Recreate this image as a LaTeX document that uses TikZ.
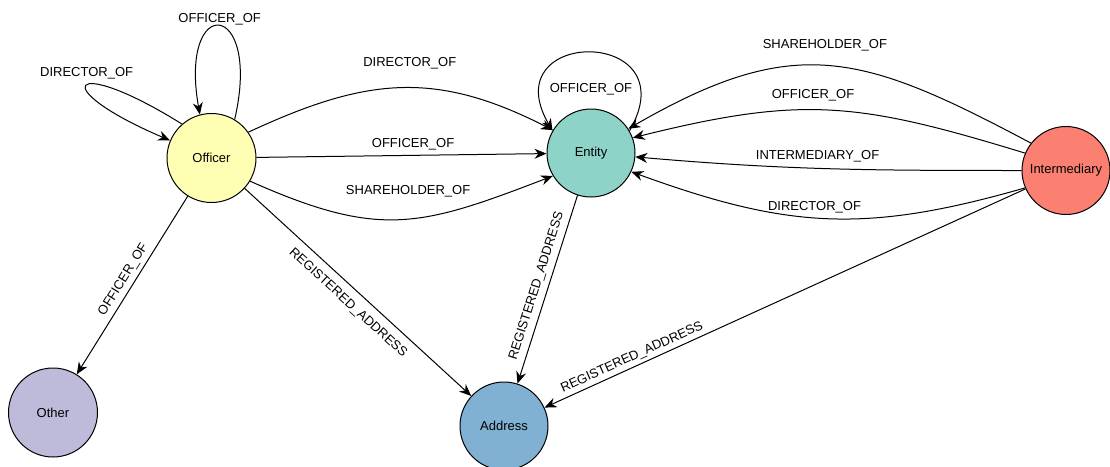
\documentclass[tikz,border=0pt]{standalone}
\usepackage{fontspec}
\setmainfont{Liberation Sans}
\usetikzlibrary{arrows.meta}
\definecolor{setteal}{HTML}{8DD3C7}
\definecolor{setyellow}{HTML}{FFFFB3}
\definecolor{setlav}{HTML}{BEBADA}
\definecolor{setsalmon}{HTML}{FB8072}
\definecolor{setblue}{HTML}{80B1D3}

\begin{document}
\begin{tikzpicture}[x=1pt,y=-1pt,
  every node/.style={font=\fontsize{13}{15}\selectfont},
  nodecirc/.style={circle, draw=black, line width=1pt, inner sep=0pt, minimum size=88pt},
  rel/.style={draw=black, line width=1pt, -{Stealth[length=12pt,width=10pt]}},
  lbl/.style={inner sep=0pt}]
\useasboundingbox (0,0) rectangle (1110,466);
\node[nodecirc, fill=setyellow, minimum size=89pt] (officer) at (211.5,158) {Officer};
\node[nodecirc, fill=setteal] (entity) at (591,153) {Entity};
\node[nodecirc, fill=setsalmon] (intermediary) at (1066,170.5) {Intermediary};
\node[nodecirc, fill=setlav, minimum size=89pt] (other) at (53,412.5) {Other};
\node[nodecirc, fill=setblue] (address) at (504,426) {Address};
\draw[rel] (officer.131) to[out=148,in=157,looseness=17] node[lbl,above=6pt] {DIRECTOR\_OF} (officer.157);
\draw[rel] (officer.59) to[out=77,in=100,looseness=9] node[lbl,above=1pt] {OFFICER\_OF} (officer.105);
\draw[rel] (officer.35) to[out=25,in=153,looseness=1.1] node[lbl,pos=0.53,above=18pt] {DIRECTOR\_OF} (entity.149);
\draw[rel] (officer) -- node[lbl,pos=0.54,above=5pt] {OFFICER\_OF} (entity);
\draw[rel] (officer.-31) to[out=-24,in=201,looseness=1.2] node[lbl,pos=0.53,above=21pt] {SHAREHOLDER\_OF} (entity.211);
\draw[rel] (entity.30) to[out=60,in=120,looseness=4] node[lbl,below=30pt] {OFFICER\_OF} (entity.150);
\draw[rel] (intermediary.142) to[out=152,in=30,looseness=1.22] node[lbl,pos=0.51,above=14pt] {SHAREHOLDER\_OF} (entity.33);
\draw[rel] (intermediary.157) to[out=163,in=14,looseness=1.14] node[lbl,pos=0.55,above=8.5pt] {OFFICER\_OF} (entity.20);
\draw[rel] (intermediary.west) to[out=180,in=-5] node[lbl,pos=0.53,above=6pt] {INTERMEDIARY\_OF} (entity.-5);
\draw[rel] (intermediary.203) to[out=196,in=-20,looseness=1.08] node[lbl,pos=0.535,above=4.3pt] {DIRECTOR\_OF} (entity.-25);
\draw[rel] (officer) -- node[lbl,sloped,above=4pt] {OFFICER\_OF} (other);
\draw[rel] (officer) -- node[lbl,sloped,below=8.5pt] {REGISTERED\_ADDRESS} (address);
\draw[rel] (entity) -- node[lbl,sloped,above=5pt] {REGISTERED\_ADDRESS} (address);
\draw[rel] (intermediary) -- node[lbl,sloped,above=3pt,pos=0.81] {REGISTERED\_ADDRESS} (address);
\end{tikzpicture}
\end{document}
